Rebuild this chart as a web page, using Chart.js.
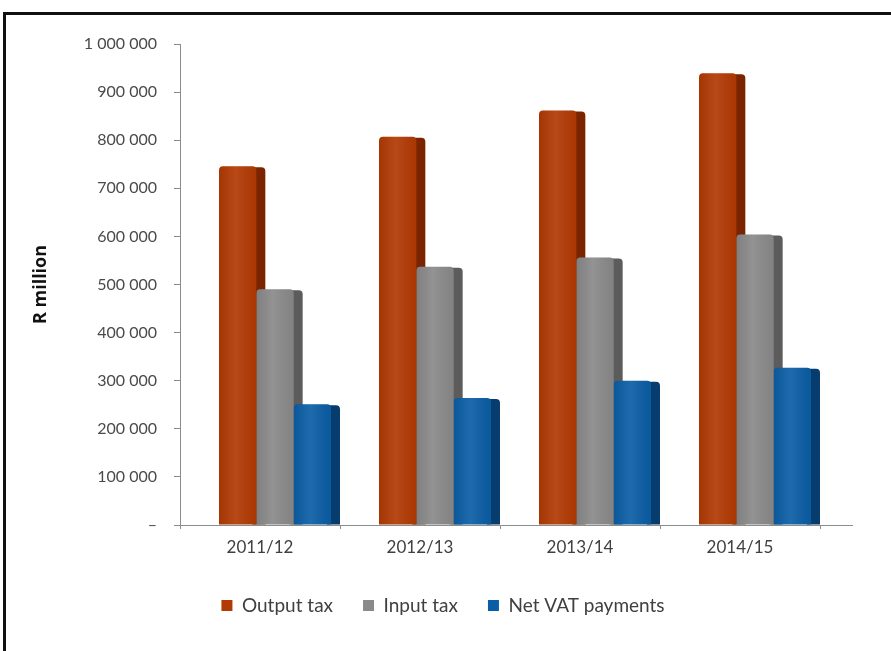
<!DOCTYPE html>
<html>
<head>
<meta charset="utf-8">
<script src="https://cdn.jsdelivr.net/npm/chart.js@4.4.0/dist/chart.umd.min.js"></script>
<style>
  html, body { margin: 0; padding: 0; background: #fff; width: 891px; height: 651px; overflow: hidden; }
  .frame { position: absolute; left: 3px; top: 12px; width: 960px; height: 700px; border: 3px solid #111; box-sizing: border-box; }
  .wrap { position: absolute; left: 0; top: 0; width: 891px; height: 651px; }
</style>
</head>
<body>
<div class="frame"></div>
<div class="wrap"><canvas id="chart"></canvas></div>
<script>
  const years = ["2011/12", "2012/13", "2013/14", "2014/15"];
  const outputTax = [746000, 807000, 862000, 939000];
  const inputTax = [490000, 537000, 556000, 604000];
  const netVat = [251000, 264000, 300000, 327000];
  const yMax = 1000000;
  const yStep = 100000;

  const SHIFT = 15;         // excel 3d bars sit a bit right of the category centre
  const SIDE = 9;           // width of the darker side face
  const DEPTH = 33;         // floor runs past the last tick
  const LEGEND_SHIFT = 33;  // legend is centred on the whole frame, not the plot

  const fmt = (v) => v === 0 ? "\u2013" : String(v).replace(/\B(?=(\d{3})+(?!\d))/g, " ");

  const depthBars = {
    id: "depthBars",
    afterLayout(chart) {
      chart.legend.left += LEGEND_SHIFT;
      chart.legend.right += LEGEND_SHIFT;
    },
    beforeDatasetsDraw(chart) {
      const ctx = chart.ctx;
      ctx.save();
      ctx.translate(SHIFT, 0);
      chart.data.datasets.forEach((ds, i) => {
        chart.getDatasetMeta(i).data.forEach((bar) => {
          const { x, y, base, width } = bar.getProps(["x", "y", "base", "width"], true);
          ctx.fillStyle = ds.sideColor;
          ctx.beginPath();
          ctx.roundRect(x + width / 2 - 4, y + 1, SIDE + 4, base - y - 1, [0, 4, 0, 0]);
          ctx.fill();
        });
      });
    },
    afterDatasetsDraw(chart) {
      const ctx = chart.ctx;
      chart.data.datasets.forEach((ds, i) => {
        chart.getDatasetMeta(i).data.forEach((bar) => {
          const { x, y, base, width } = bar.getProps(["x", "y", "base", "width"], true);
          const l = x - width / 2;
          const g = ctx.createLinearGradient(l, 0, l + width, 0);
          g.addColorStop(0, "rgba(0,0,0,0.08)");
          g.addColorStop(0.45, "rgba(255,255,255,0.08)");
          g.addColorStop(1, "rgba(0,0,0,0.05)");
          ctx.fillStyle = g;
          ctx.beginPath();
          ctx.roundRect(l, y, width, base - y, [4, 4, 0, 0]);
          ctx.fill();
        });
      });
      ctx.restore();
      const { right, bottom } = chart.chartArea;
      ctx.save();
      ctx.strokeStyle = "#8c8c8c";
      ctx.lineWidth = 1;
      ctx.beginPath();
      ctx.moveTo(right, bottom + 0.5);
      ctx.lineTo(right + DEPTH, bottom + 0.5);
      ctx.stroke();
      ctx.restore();
    }
  };

  new Chart(document.getElementById("chart"), {
    type: "bar",
    data: {
      labels: years,
      datasets: [
        { label: "Output tax", data: outputTax, backgroundColor: "#b23a04", sideColor: "#7a2400" },
        { label: "Input tax", data: inputTax, backgroundColor: "#8a8a8a", sideColor: "#5c5c5c" },
        { label: "Net VAT payments", data: netVat, backgroundColor: "#0b5ea6", sideColor: "#073d6e" }
      ]
    },
    options: {
      responsive: true,
      maintainAspectRatio: false,
      animation: false,
      layout: { padding: { top: 44, right: 71, bottom: 26, left: 0 } },
      datasets: {
        bar: {
          categoryPercentage: 0.7,
          barPercentage: 1,
          borderRadius: { topLeft: 4, topRight: 4 },
          borderSkipped: "start"
        }
      },
      plugins: {
        legend: {
          position: "bottom",
          labels: {
            boxWidth: 11,
            boxHeight: 11,
            padding: 30,
            color: "#404040",
            font: { family: "Lato", size: 19 }
          }
        },
        tooltip: { enabled: false }
      },
      scales: {
        x: {
          afterFit: (s) => { s.height = 41; },
          grid: { drawOnChartArea: false, tickLength: 4, color: "#8c8c8c" },
          border: { color: "#8c8c8c" },
          ticks: { color: "#404040", padding: 8, font: { family: "Lato", size: 17 } }
        },
        y: {
          min: 0,
          max: yMax,
          afterFit: (s) => { s.width = 180; },
          grid: { drawOnChartArea: false, tickLength: 6, color: "#8c8c8c" },
          border: { color: "#8c8c8c" },
          ticks: {
            stepSize: yStep,
            padding: 17,
            color: "#4a4a4a",
            font: { family: "Lato", size: 16 },
            callback: (v) => fmt(v)
          },
          title: {
            display: true,
            text: "R million",
            color: "#111",
            padding: { top: 30, bottom: 0 },
            font: { family: "Open Sans", size: 18, weight: "bold" }
          }
        }
      }
    },
    plugins: [depthBars]
  });
</script>
</body>
</html>
